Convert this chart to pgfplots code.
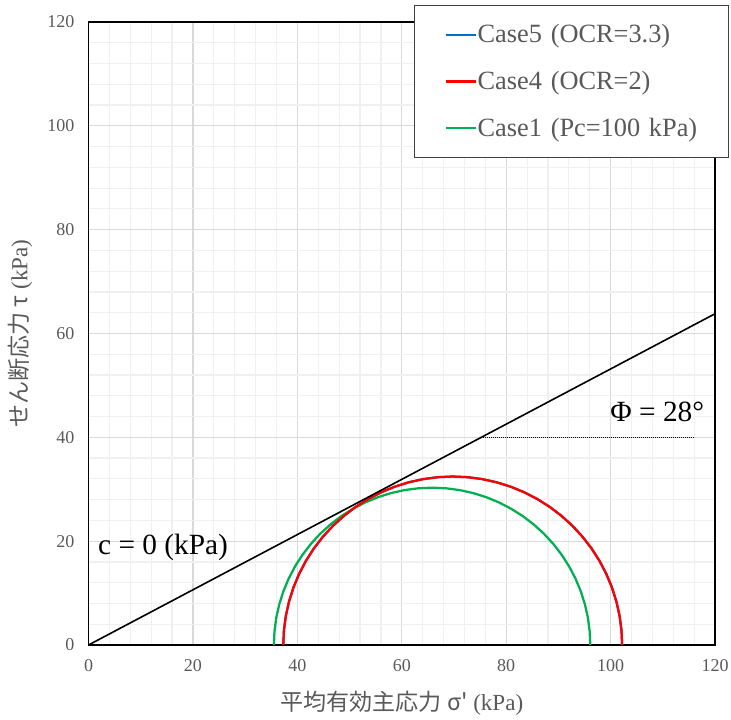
\documentclass[border=0pt]{standalone}
\usepackage{pgfplots}
\pgfplotsset{compat=1.18}
\usepackage{pgfplotstable}
\usepackage{fontspec}
\setmainfont{Liberation Serif}
\newfontfamily\cjk{Noto Sans CJK JP}

\definecolor{txtgray}{HTML}{595959}
\definecolor{majgrid}{HTML}{D9D9D9}
\definecolor{mingrid}{HTML}{F0F0F0}
\definecolor{c5blue}{HTML}{0070C0}
\definecolor{c4red}{HTML}{FF0000}
\definecolor{c1green}{HTML}{00B050}

% Mohr circle, Case4 (OCR=2): sigma', tau
\pgfplotstableread{
x y
102.200 0
102.076 2.828
101.707 5.635
101.094 8.399
100.243 11.099
99.160 13.714
97.853 16.225
96.331 18.613
94.608 20.859
92.696 22.946
90.609 24.858
88.363 26.581
85.975 28.103
83.464 29.410
80.849 30.493
78.149 31.344
75.385 31.957
72.578 32.326
69.750 32.450
66.922 32.326
64.115 31.957
61.351 31.344
58.651 30.493
56.036 29.410
53.525 28.103
51.137 26.581
48.891 24.858
46.804 22.946
44.892 20.859
43.169 18.613
41.647 16.225
40.340 13.714
39.257 11.099
38.406 8.399
37.793 5.635
37.424 2.828
37.300 0
}\caseFour

% Mohr circle, Case5 (OCR=3.3)
\pgfplotstableread{
x y
102.200 0
102.076 2.828
101.707 5.635
101.094 8.399
100.243 11.099
99.160 13.714
97.853 16.225
96.331 18.613
94.608 20.859
92.696 22.946
90.609 24.858
88.363 26.581
85.975 28.103
83.464 29.410
80.849 30.493
78.149 31.344
75.385 31.957
72.578 32.326
69.750 32.450
66.922 32.326
64.115 31.957
61.351 31.344
58.651 30.493
56.036 29.410
53.525 28.103
51.137 26.581
48.891 24.858
46.804 22.946
44.892 20.859
43.169 18.613
41.647 16.225
40.340 13.714
39.257 11.099
38.406 8.399
37.793 5.635
37.424 2.828
37.300 0
}\caseFive

% Mohr circle, Case1 (Pc=100 kPa)
\pgfplotstableread{
x y
96.100 0
95.985 2.641
95.640 5.262
95.068 7.842
94.273 10.363
93.261 12.805
92.041 15.150
90.620 17.379
89.011 19.477
87.225 21.425
85.277 23.211
83.179 24.820
80.950 26.241
78.605 27.461
76.163 28.473
73.642 29.268
71.062 29.840
68.441 30.185
65.800 30.300
63.159 30.185
60.538 29.840
57.958 29.268
55.437 28.473
52.995 27.461
50.650 26.241
48.421 24.820
46.323 23.211
44.375 21.425
42.589 19.477
40.980 17.379
39.559 15.150
38.339 12.805
37.327 10.363
36.532 7.842
35.960 5.262
35.615 2.641
35.500 0
}\caseOne

\begin{document}
\begin{tikzpicture}
\path[use as bounding box] (-66.4pt,-56.25pt) rectangle (481.85pt,483.75pt);
\begin{axis}[
  at={(0,0)}, anchor=south west,
  scale only axis,
  width=469.9pt, height=467.25pt,
  xmin=0, xmax=120, ymin=0, ymax=120,
  xtick={0,20,...,120}, ytick={0,20,...,120},
  minor x tick num=4, minor y tick num=4,
  grid=both,
  major grid style={majgrid, line width=0.9pt},
  minor grid style={mingrid, line width=0.9pt},
  tick style={draw=none},
  axis line style={black, line width=1.2pt},
  /pgf/number format/assume math mode=true,
  ticklabel style={font=\fontsize{13.5}{14}\selectfont, text=txtgray},
  xticklabel style={yshift=-7pt},
  yticklabel style={xshift=-7pt},
  xlabel={{\cjk 平均有効主応力 σ'} (kPa)},
  ylabel={{\cjk せん断応力 τ} (kPa)},
  label style={font=\fontsize{17.3}{19}\selectfont, text=txtgray},
  xlabel style={yshift=-8pt},
  ylabel style={yshift=4.5pt},
  legend style={
    at={(axis description cs:0.5195,1.0273)}, anchor=north west,
    draw=black!75, line width=0.8pt, fill=white,
    font=\fontsize{19.75}{21}\selectfont, text=txtgray,
    inner xsep=23pt, inner ysep=14.4pt,
    row sep=19.8pt,
    legend cell align=left,
    nodes={inner sep=0pt, text width=165pt, align=left}
  },
  legend image code/.code={\draw[#1, line width=1.8pt] (0pt,0pt) -- (22.5pt,0pt);},
]
\addplot[c5blue, line width=1.7pt] table {\caseFive};
\addlegendentry{Case5 (OCR=3.3)}
\addplot[c1green, line width=1.7pt, forget plot] table {\caseOne};
\addplot[c4red, line width=1.7pt] table {\caseFour};
\addlegendentry{Case4 (OCR=2)}
\addplot[c1green, line width=1.7pt, draw=none] coordinates {(0,0)};
\addlegendentry{Case1 (Pc=100 kPa)}
% failure envelope, c = 0, phi = 28 deg
\addplot[black, line width=1.2pt] coordinates {(0,0) (120,63.81)};
% reference line at tau = 40
\addplot[black, line width=0.9pt, dash pattern=on 0.75pt off 0.75pt] coordinates {(75.2,40) (116,40)};
\node[anchor=west, inner sep=0pt, font=\fontsize{22}{24}\selectfont] at (axis cs:99.9,44.9) {Φ = 28°};
\node[anchor=west, inner sep=0pt, font=\fontsize{22}{24}\selectfont] at (axis cs:1.8,18.8) {c = 0 (kPa)};
\end{axis}
\end{tikzpicture}
\end{document}
